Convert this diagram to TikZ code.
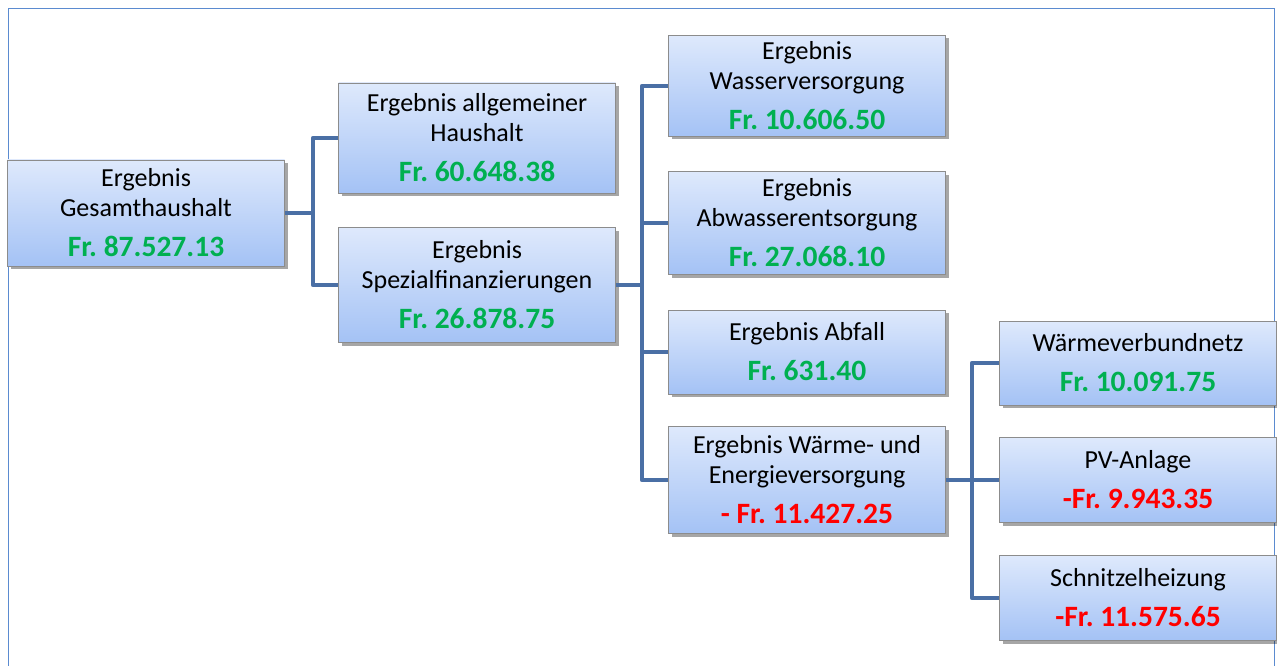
\documentclass[tikz,border=0pt]{standalone}
\usepackage{fontspec}
\setmainfont{Carlito}
\usetikzlibrary{positioning,shadows}

\definecolor{plus}{HTML}{00B050}
\definecolor{minus}{HTML}{FF0000}
\definecolor{bar}{HTML}{4A6FA5}
\definecolor{frame}{HTML}{5B8BD0}
\definecolor{boxtop}{RGB}{222,233,252}
\definecolor{boxbot}{RGB}{164,194,245}

\tikzset{
  box/.style={draw=black!45, line width=0.8pt, top color=boxtop, bottom color=boxbot,
    minimum width=277, align=center, inner sep=0pt,
    font=\fontsize{26}{30}\selectfont\frenchspacing,
    drop shadow={shadow xshift=3pt, shadow yshift=-3pt, opacity=0.35, fill=black}},
  conn/.style={bar, line width=4.5pt, line join=round},
}
\newcommand{\pos}[1]{{\fontsize{29.5}{30}\selectfont\textcolor{plus}{\textbf{#1}}}}
\newcommand{\negv}[1]{{\fontsize{29.5}{30}\selectfont\textcolor{minus}{\textbf{#1}}}}

\begin{document}
\begin{tikzpicture}[x=1pt, y=-1pt]
\useasboundingbox (0,0) rectangle (1277,666);
\fill[white] (0,0) rectangle (1277,666);
\draw[frame, line width=1pt] (8,670) -- (8,9) -- (1274,9) -- (1274,670);

% level 1
\node[box, minimum height=106] (ges) at (146,213) {Ergebnis\\Gesamthaushalt\\[10pt]\pos{Fr. 87.527.13}};

% level 2
\node[box, minimum height=110] (allg) at (477,138) {Ergebnis allgemeiner\\Haushalt\\[10pt]\pos{Fr. 60.648.38}};
\node[box, minimum height=115] (spez) at (477,285) {Ergebnis\\Spezialfinanzierungen\\[10pt]\pos{Fr. 26.878.75}};

% level 3
\node[box, minimum height=101] (wv) at (807,86) {Ergebnis\\Wasserversorgung\\[10pt]\pos{Fr. 10.606.50}};
\node[box, minimum height=103] (ae) at (807,223) {Ergebnis\\Abwasserentsorgung\\[10pt]\pos{Fr. 27.068.10}};
\node[box, minimum height=84] (abf) at (807,352) {Ergebnis Abfall\\[10pt]\pos{Fr. 631.40}};
\node[box, minimum height=107] (we) at (807,480) {Ergebnis Wärme- und\\Energieversorgung\\[10pt]\negv{- Fr. 11.427.25}};

% level 4
\node[box, minimum height=84] (wvn) at (1138,363) {Wärmeverbundnetz\\[10pt]\pos{Fr. 10.091.75}};
\node[box, minimum height=85] (pv) at (1138,480) {PV-Anlage\\[10pt]\negv{-Fr. 9.943.35}};
\node[box, minimum height=85] (sh) at (1138,598) {Schnitzelheizung\\[10pt]\negv{-Fr. 11.575.65}};

% connectors
\coordinate (b1) at (313,213);
\coordinate (b2) at (642,285);
\coordinate (b3) at (972,480);

\draw[conn] (ges.east) -- (b1);
\draw[conn] (b1) |- (allg.west);
\draw[conn] (b1) |- (spez.west);

\draw[conn] (spez.east) -- (b2);
\draw[conn] (b2) |- (wv.west);
\draw[conn] (b2) |- (ae.west);
\draw[conn] (b2) |- (abf.west);
\draw[conn] (b2) |- (we.west);

\draw[conn] (we.east) -- (b3);
\draw[conn] (b3) |- (wvn.west);
\draw[conn] (b3) |- (pv.west);
\draw[conn] (b3) |- (sh.west);
\end{tikzpicture}
\end{document}
